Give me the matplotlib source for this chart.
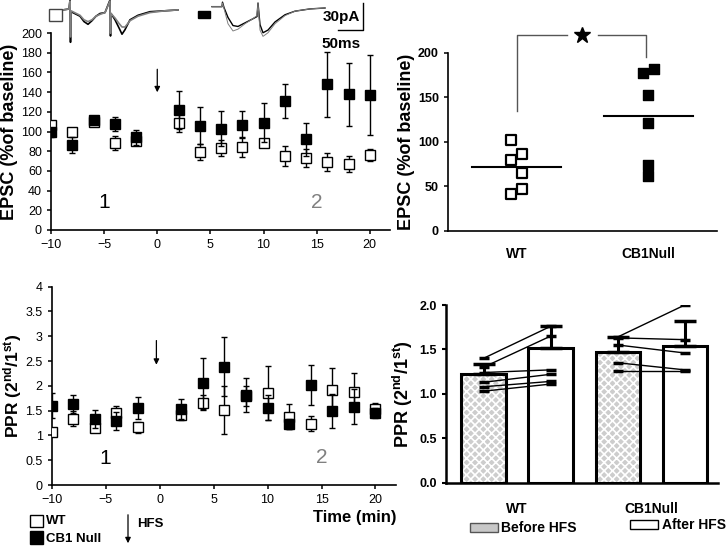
import matplotlib
matplotlib.use('Agg')
import matplotlib.pyplot as plt
from matplotlib.patches import Rectangle

plt.rcParams['font.family'] = ['Liberation Sans', 'DejaVu Sans']
plt.rcParams['mathtext.fontset'] = 'custom'
plt.rcParams['mathtext.rm'] = 'Liberation Sans:bold'
plt.rcParams['mathtext.bf'] = 'Liberation Sans:bold'
plt.rcParams['mathtext.default'] = 'bf'
plt.rcParams['hatch.linewidth'] = 1.2

# ---- time course data (min) ----
t = [-10, -8, -6, -4, -2, 2, 4, 6, 8, 10, 12, 14, 16, 18, 20]

wt_epsc = [107, 99, 110, 88, 90, 109, 79, 83, 84, 88.5, 75, 73, 69, 67, 76]
wt_epsc_err = [4, 4, 3, 7, 4, 10, 8, 8, 10, 3, 10, 9, 9.5, 8, 6]
cb_epsc = [99, 86, 112, 108, 94, 122, 106, 103, 107, 109, 131, 92, 148, 138, 137]
cb_epsc_err = [5, 8, 3, 7, 8, 19, 19, 18, 14, 20, 17, 17, 33, 32, 41]

wt_ppr = [1.06, 1.34, 1.14, 1.45, 1.16, 1.41, 1.66, 1.51, 1.80, 1.86, 1.38, 1.24, 1.92, 1.87, 1.53]
wt_ppr_err = [0.05, 0.15, 0.08, 0.15, 0.12, 0.1, 0.15, 0.48, 0.2, 0.54, 0.25, 0.15, 0.45, 0.38, 0.12]
cb_ppr = [1.60, 1.63, 1.33, 1.29, 1.55, 1.53, 2.05, 2.39, 1.82, 1.56, 1.23, 2.02, 1.49, 1.58, 1.45]
cb_ppr_err = [0.25, 0.18, 0.18, 0.18, 0.22, 0.2, 0.52, 0.59, 0.34, 0.25, 0.1, 0.4, 0.35, 0.35, 0.1]

# ---- scatter (EPSC at 2) ----
wt_pts = [102, 86, 80, 65, 47, 41]
wt_jit = [-0.04, 0.04, -0.04, 0.04, 0.04, -0.04]
cb_pts = [182, 177, 153, 121, 74, 61]
cb_jit = [0.04, -0.04, 0, 0, 0, 0]
group_means = [72, 129]
groups = ['WT', 'CB1Null']

# ---- PPR bars ----
ppr_before = [1.22, 1.47]
ppr_before_err = [0.12, 0.17]
ppr_after = [1.52, 1.54]
ppr_after_err = [0.24, 0.28]
wt_pair_before = [1.40, 1.30, 1.24, 1.13, 1.08, 1.03]
wt_pair_after = [1.76, 1.65, 1.27, 1.22, 1.14, 1.11]
cb_pair_before = [1.64, 1.63, 1.55, 1.35, 1.26]
cb_pair_after = [2.00, 1.61, 1.46, 1.27, 1.26]

# ---- example traces (ms, pA) ----
tr1_t = [6, 18, 20, 21, 22, 40, 48, 56, 64, 72, 80, 90, 100, 101, 102, 110, 118, 124, 130, 140, 156, 180, 210, 236]
tr1_black = [0, 1, 11, -36, -2, -7, -13, -16, -12, -7, -4, -3, 11, -29, -4, -11, -20, -27, -22, -11, -6, -2, -1, 0]
tr1_gray = [0, 1, 10, -30, -1, -6, -11, -13, -11, -7, -5, -3, 10, -26, -4, -9, -15, -19, -19, -12, -7, -3, -1, 0]
tr2_t = [14, 34, 35, 38, 46, 56, 66, 80, 94, 104, 106, 110, 116, 126, 140, 160, 180, 210, 240]
tr2_black = [0, 0, 5, -1, -12, -21, -22, -18, -14, -11, 4, -20, -29, -26, -17, -9, -5, -2.5, -1.5]
tr2_gray = [0, 0, 4, -2, -19, -27, -25, -19, -14, -10, 4, -26, -33, -29, -19, -10, -5, -2.5, -1.5]

W, H = 728, 547
fig = plt.figure(figsize=(7.28, 5.47), dpi=100)


def box(x0, y0, x1, y1):
    # pixel box (top-left origin) -> figure fraction
    return [x0 / W, 1 - y1 / H, (x1 - x0) / W, (y1 - y0) / H]


def clean(ax, lw=1.2):
    for s in ['top', 'right']:
        ax.spines[s].set_visible(False)
    for s in ['left', 'bottom']:
        ax.spines[s].set_linewidth(lw)
    ax.patch.set_alpha(0)


def timecourse(ax, wt, wte, cb, cbe):
    ax.errorbar(t, wt, yerr=wte, fmt='s', mfc='white', mec='black', mew=1.0,
                ms=7, ecolor='black', elinewidth=1, capsize=2.5, zorder=3)
    ax.errorbar(t, cb, yerr=cbe, fmt='s', mfc='black', mec='black',
                ms=7, ecolor='black', elinewidth=1, capsize=2.5, zorder=4)
    ax.set_xlim(-10, 21.9)
    ax.set_xticks([-10, -5, 0, 5, 10, 15, 20])
    ax.tick_params(labelsize=9, length=3, width=1.1)
    clean(ax)


# ---------- top left ----------
ax1 = fig.add_axes(box(51, 33, 390, 230))
timecourse(ax1, wt_epsc, wt_epsc_err, cb_epsc, cb_epsc_err)
ax1.set_ylim(0, 200)
ax1.set_yticks(range(0, 201, 20))
ax1.set_ylabel('EPSC (%of baseline)', fontsize=13, fontweight='bold')
ax1.yaxis.set_label_coords(-0.097, 0.5)
ax1.text(-5, 28, '1', fontsize=15, ha='center', va='center')
ax1.text(15, 28, '2', fontsize=15, ha='center', va='center', color='#808080')
ax1.annotate('', xy=(0, 137), xytext=(0, 166),
             arrowprops=dict(arrowstyle='-|>', color='black', lw=0.9, mutation_scale=8))

# ---------- bottom left ----------
ax3 = fig.add_axes(box(51.7, 286.7, 396, 485))
timecourse(ax3, wt_ppr, wt_ppr_err, cb_ppr, cb_ppr_err)
ax3.set_ylim(0, 4)
ax3.set_yticks([0, 0.5, 1, 1.5, 2, 2.5, 3, 3.5, 4])
ax3.set_yticklabels(['0', '0.5', '1', '1.5', '2', '2.5', '3', '3.5', '4'])
ax3.set_ylabel(r'PPR (2$^{nd}$/1$^{st}$)', fontsize=12.5, fontweight='bold')
ax3.yaxis.set_label_coords(-0.08, 0.5)
ax3.text(-5, 0.54, '1', fontsize=15, ha='center', va='center')
ax3.text(15, 0.56, '2', fontsize=15, ha='center', va='center', color='#808080')
ax3.annotate('', xy=(-0.3, 2.37), xytext=(-0.3, 2.97),
             arrowprops=dict(arrowstyle='-|>', color='black', lw=0.9, mutation_scale=8))
ax3.text(21.9, -0.5, 'Time (min)', fontsize=12, fontweight='bold', ha='right', va='top')

# ---------- top right ----------
ax2 = fig.add_axes(box(448, 52.7, 717, 230.7))
ax2.scatter([0 + j for j in wt_jit], wt_pts, marker='s', s=42, facecolor='white',
            edgecolor='black', linewidth=1.6, zorder=3)
ax2.scatter([1 + j for j in cb_jit], cb_pts, marker='s', s=42, facecolor='black',
            edgecolor='black', zorder=3)
for i, m in enumerate(group_means):
    ax2.plot([i - 0.34, i + 0.34], [m, m], color='black', lw=1.5)
ax2.set_xlim(-0.52, 1.52)
ax2.set_ylim(0, 200)
ax2.set_yticks([0, 50, 100, 150, 200])
ax2.set_xticks([0, 1])
ax2.set_xticklabels(groups, fontsize=10, fontweight='bold')
ax2.tick_params(axis='x', length=0, pad=12)
ax2.tick_params(axis='y', labelsize=9, length=3, width=1.1)
for lab in ax2.get_yticklabels():
    lab.set_fontweight('bold')
ax2.set_ylabel('EPSC (%of baseline)', fontsize=13, fontweight='bold')
ax2.yaxis.set_label_coords(-0.123, 0.5)
clean(ax2)
ax2.plot([0, 0, 0.38], [134, 220, 220], color='#555555', lw=1, clip_on=False)
ax2.plot([0.62, 0.98, 0.98], [220, 220, 195], color='#555555', lw=1, clip_on=False)
ax2.plot([0.495], [220], marker='*', color='black', ms=12, clip_on=False)

# ---------- bottom right ----------
ax4 = fig.add_axes(box(446, 305, 718.3, 482.7))
xb = [0 - 0.25, 1 - 0.25]
xa = [0 + 0.25, 1 + 0.25]
bw = 0.33
ax4.bar(xb, ppr_before, width=bw, color='#cdcdcd', edgecolor='white', hatch='xxxx',
        linewidth=0, zorder=1)
ax4.bar(xb, ppr_before, width=bw, fill=False, edgecolor='black', linewidth=2.2, zorder=2)
ax4.bar(xa, ppr_after, width=bw, color='white', edgecolor='black', linewidth=2.2, zorder=2)
ax4.errorbar(xb, ppr_before, yerr=[[0, 0], ppr_before_err], fmt='none', ecolor='black',
             elinewidth=2.2, capsize=8, capthick=2.5, zorder=3)
ax4.errorbar(xa, ppr_after, yerr=[[0, 0], ppr_after_err], fmt='none', ecolor='black',
             elinewidth=2.2, capsize=8, capthick=2.5, zorder=3)
for b, a in zip(wt_pair_before, wt_pair_after):
    ax4.plot([xb[0], xa[0]], [b, a], color='black', lw=1, marker='_', ms=7, mew=2.5, zorder=4)
for b, a in zip(cb_pair_before, cb_pair_after):
    ax4.plot([xb[1], xa[1]], [b, a], color='black', lw=1, marker='_', ms=7, mew=2.5, zorder=4)
ax4.set_xlim(-0.53, 1.5)
ax4.set_ylim(0, 2.0)
ax4.set_yticks([0, 0.5, 1.0, 1.5, 2.0])
ax4.set_yticklabels(['0.0', '0.5', '1.0', '1.5', '2.0'])
ax4.set_xticks([0, 1])
ax4.set_xticklabels(groups, fontsize=10, fontweight='bold')
ax4.tick_params(axis='x', length=0, pad=14)
ax4.tick_params(axis='y', labelsize=9, length=3, width=1.5)
for lab in ax4.get_yticklabels():
    lab.set_fontweight('bold')
ax4.set_ylabel(r'PPR (2$^{nd}$/1$^{st}$)', fontsize=13, fontweight='bold')
ax4.yaxis.set_label_coords(-0.114, 0.5)
clean(ax4, lw=1.8)

# ---------- example traces ----------
at1 = fig.add_axes(box(60, 0, 185, 45))
at1.plot(tr1_t, tr1_black, color='black', lw=1.2)
at1.plot(tr1_t, tr1_gray, color='#808080', lw=1.2)
at1.set_xlim(0, 250)
at1.set_ylim(-39, 11)
at1.axis('off')

at2 = fig.add_axes(box(205, 0, 330, 45))
at2.plot(tr2_t, tr2_black, color='black', lw=1.0)
at2.plot(tr2_t, tr2_gray, color='#808080', lw=0.7)
at2.set_xlim(0, 250)
at2.set_ylim(-42.6, 7.4)
at2.axis('off')

# ---------- overlay: keys, scale bar ----------
ov = fig.add_axes([0, 0, 1, 1], zorder=10)
ov.set_xlim(0, W)
ov.set_ylim(H, 0)
ov.axis('off')
ov.add_patch(Rectangle((49, 9), 13, 12, facecolor='white', edgecolor='#444444', lw=1))
ov.add_patch(Rectangle((198, 11), 12, 7, facecolor='black', edgecolor='black', lw=1))
ov.plot([338, 363, 363], [30, 30, 3], color='black', lw=1)
ov.text(341, 17, '30pA', fontsize=11, fontweight='bold', ha='center', va='center')
ov.text(341, 44, '50ms', fontsize=11, fontweight='bold', ha='center', va='center')

ov.add_patch(Rectangle((30, 515), 13, 12, facecolor='white', edgecolor='black', lw=1))
ov.add_patch(Rectangle((30, 531), 13, 13, facecolor='black', edgecolor='black', lw=1))
ov.text(46, 521, 'WT', fontsize=9.5, fontweight='bold', va='center')
ov.text(46, 539, 'CB1 Null', fontsize=9.5, fontweight='bold', va='center')
ov.annotate('', xy=(128, 546), xytext=(128, 512),
            arrowprops=dict(arrowstyle='-|>', color='black', lw=0.9, mutation_scale=8))
ov.text(137, 524, 'HFS', fontsize=9.5, fontweight='bold', va='center')

ov.add_patch(Rectangle((470, 523), 28, 9, facecolor='#c8c8c8', edgecolor='#555555', lw=1))
ov.text(501, 528, 'Before HFS', fontsize=10, fontweight='bold', va='center')
ov.add_patch(Rectangle((630, 520), 28, 9, facecolor='white', edgecolor='black', lw=1))
ov.text(662, 525, 'After HFS', fontsize=10, fontweight='bold', va='center')

fig.savefig('out.png', dpi=100)
